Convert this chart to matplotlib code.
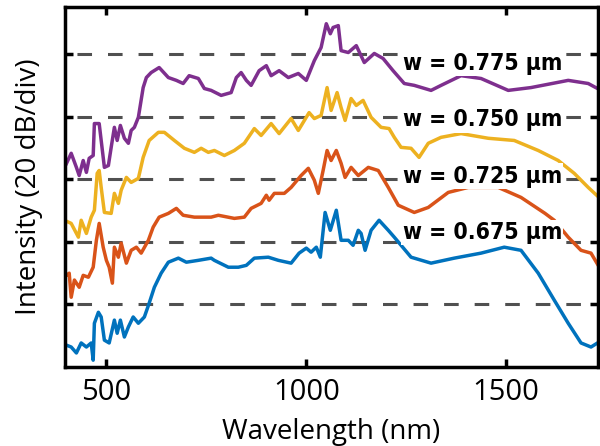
import matplotlib
matplotlib.use('Agg')
import matplotlib.pyplot as plt

# spectra, intensity in dB (curves already offset)
wl_775 = [400, 412, 425, 432, 442, 450, 457, 467, 470, 482, 487, 495, 505, 512, 520, 527, 535, 545, 555, 562,
          570, 580, 592, 600, 612, 632, 655, 675, 692, 707, 730, 745, 762, 787, 812, 825, 837, 850, 862, 882,
          900, 912, 932, 955, 980, 1000, 1020, 1037, 1050, 1060, 1067, 1080, 1087, 1105, 1125, 1145, 1170, 1192,
          1217, 1245, 1270, 1312, 1337, 1387, 1437, 1505, 1562, 1655, 1705, 1737]
db_775 = [65.0, 68.3, 63.8, 61.2, 66.0, 62.2, 66.7, 67.6, 77.8, 77.8, 72.4, 63.8, 64.4, 70.2, 76.6, 72.4, 77.2, 73.1, 71.5, 75.6,
          76.6, 79.8, 89.3, 92.5, 94.1, 95.7, 92.5, 91.6, 90.6, 93.1, 92.2, 89.0, 88.4, 86.8, 87.7, 92.5, 94.1, 91.6, 90.0, 94.7,
          96.3, 93.1, 94.7, 92.5, 93.8, 91.6, 97.9, 102.1, 109.7, 106.5, 108.5, 109.1, 101.1, 100.5, 102.7, 97.3, 100.2, 98.6,
          94.7, 90.6, 90.0, 88.4, 90.0, 93.1, 92.2, 88.4, 89.3, 91.6, 90.6, 88.4]

wl_750 = [400, 412, 430, 437, 450, 462, 470, 477, 482, 487, 495, 512, 520, 530, 537, 550, 562, 580, 592, 607,
          630, 645, 670, 695, 720, 737, 755, 770, 795, 820, 845, 870, 887, 912, 932, 962, 980, 1007, 1020, 1037,
          1052, 1062, 1077, 1087, 1097, 1112, 1125, 1142, 1162, 1187, 1207, 1220, 1237, 1262, 1282, 1305, 1337,
          1387, 1455, 1520, 1580, 1630, 1670, 1705, 1732]
db_750 = [46.6, 45.9, 41.5, 46.9, 42.7, 47.9, 50.1, 61.9, 62.8, 57.4, 49.4, 49.1, 55.5, 52.3, 56.5, 60.6, 59.0, 60.3, 67.0, 72.4,
          75.0, 75.0, 72.4, 69.9, 68.6, 69.9, 68.6, 69.2, 67.6, 69.2, 71.5, 76.2, 74.0, 77.8, 74.6, 79.4, 75.6, 81.3, 79.4, 80.4,
          89.3, 82.0, 87.7, 82.9, 78.8, 85.8, 83.6, 85.2, 79.8, 76.6, 76.2, 73.4, 70.2, 69.9, 67.0, 71.5, 73.4,
          74.6, 73.1, 72.4, 69.2, 66.0, 61.9, 57.4, 54.2]

wl_725 = [400, 407, 412, 420, 432, 442, 455, 467, 475, 482, 492, 500, 507, 515, 520, 530, 537, 550, 562, 575,
          587, 605, 617, 632, 655, 675, 692, 720, 762, 780, 820, 845, 862, 887, 900, 907, 920, 945, 962, 987,
          1005, 1020, 1030, 1042, 1052, 1062, 1075, 1087, 1097, 1112, 1130, 1155, 1180, 1205, 1230, 1270, 1305,
          1355, 1405, 1480, 1537, 1597, 1620, 1655, 1687, 1712, 1730]
db_725 = [29.3, 30.0, 22.3, 27.8, 25.5, 29.3, 28.7, 31.9, 40.5, 45.9, 38.3, 34.1, 31.9, 26.8, 38.3, 35.1, 39.6, 33.2, 37.3, 38.3,
          36.4, 40.5, 44.7, 47.9, 49.1, 50.7, 48.5, 47.9, 47.9, 48.5, 47.5, 47.9, 50.7, 52.3, 54.9, 53.3, 55.5, 55.5, 57.4, 61.2,
          63.5, 59.7, 55.5, 62.8, 69.2, 66.0, 69.2, 65.1, 60.6, 63.8, 61.2, 63.8, 62.8, 57.4, 51.7, 49.4, 51.0,
          55.8, 57.4, 57.4, 54.2, 49.1, 46.9, 41.5, 37.3, 36.4, 32.5]

wl_675 = [400, 412, 425, 437, 450, 462, 467, 470, 480, 487, 495, 507, 520, 527, 535, 545, 555, 567, 580, 595,
          607, 620, 637, 655, 680, 700, 730, 762, 770, 805, 830, 850, 870, 905, 930, 962, 982, 1000, 1012, 1025,
          1035, 1047, 1060, 1075, 1087, 1105, 1117, 1130, 1137, 1147, 1162, 1182, 1205, 1220, 1262, 1312, 1370,
          1437, 1495, 1537, 1580, 1620, 1655, 1687, 1712, 1732]
db_675 = [7.0, 6.4, 4.5, 7.7, 6.4, 7.7, 2.2, 14.0, 17.5, 16.0, 8.6, 7.7, 15.0, 10.8, 15.0, 9.6, 12.8, 16.0, 14.0, 16.0,
          20.4, 25.5, 30.0, 33.5, 34.8, 33.5, 34.1, 34.8, 34.1, 31.9, 31.9, 32.5, 34.8, 35.1, 34.1, 33.2, 36.4, 38.0, 36.7, 38.3,
          35.1, 49.4, 43.7, 50.1, 40.5, 40.5, 38.9, 43.7, 42.7, 37.3, 43.7, 46.9, 43.7, 41.5, 35.1, 33.2, 34.8,
          36.4, 38.3, 37.3, 30.0, 21.4, 14.0, 7.7, 6.4, 8.0]

labels = ['w = 0.775 µm', 'w = 0.750 µm', 'w = 0.725 µm', 'w = 0.675 µm']
label_y = [97, 79, 61, 43]
grid_levels = [20, 40, 60, 80, 100]
colors = ['#7E2F8E', '#EDB120', '#D95319', '#0072BD']

plt.rcParams['font.family'] = ['Open Sans', 'DejaVu Sans']
plt.rcParams['lines.scale_dashes'] = False

fig = plt.figure(figsize=(6, 4.46), dpi=100)
ax = fig.add_axes([0.108, 0.177, 0.889, 0.807])

for lev in grid_levels:
    ax.axhline(lev, color='#505050', lw=2.2, linestyle=(13.4, (10.5, 11.5)), zorder=1)

series = [(wl_775, db_775), (wl_750, db_750), (wl_725, db_725), (wl_675, db_675)]
for (x, y), c in zip(series, colors):
    ax.plot(x, y, color=c, lw=2.5, solid_joinstyle='round', zorder=2)

for txt, yy in zip(labels, label_y):
    ax.text(1440, yy, txt, ha='center', va='center', fontsize=16.5, fontweight='bold',
            family=['DejaVu Sans'], fontstretch='condensed',
            bbox=dict(facecolor='white', edgecolor='none', pad=1), zorder=3)

ax.set_xlim(396, 1730)
ax.set_ylim(0, 115)
ax.set_xticks([500, 1000, 1500])
ax.set_yticks(grid_levels)
ax.set_yticklabels([])
ax.tick_params(direction='in', length=6, width=2.5, top=True, right=True, labelsize=21, pad=8)
for s in ax.spines.values():
    s.set_linewidth(2.5)

ax.set_xlabel('Wavelength (nm)', fontsize=20, labelpad=8)
ax.set_ylabel('Intensity (20 dB/div)', fontsize=20, labelpad=8)

fig.savefig('out.png', dpi=100)
